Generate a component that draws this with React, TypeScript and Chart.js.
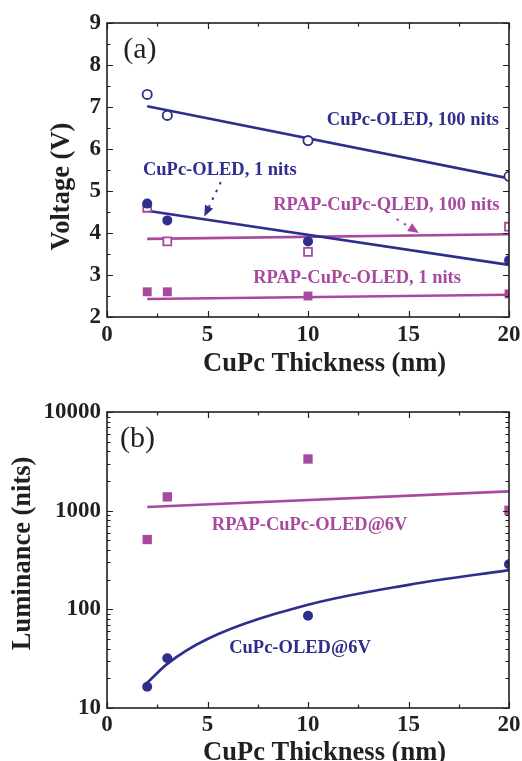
import React, { useEffect, useRef } from "react";
import { Chart, registerables } from "chart.js";

Chart.register(...registerables);

const NAVY = "#2E2E8C";
const MAGENTA = "#A9489F";
const INK = "#231F20";
const FAMILY = "'Liberation Serif', 'Times New Roman', serif";

// ---- data: panel (a) ----
const thicknessNm = [2, 3, 10, 20];
const cupc100Voltage = [7.3, 6.8, 6.2, 5.35];
const cupc1Voltage = [4.7, 4.3, 3.8, 3.35];
const rpap100Voltage = [4.6, 3.8, 3.55, 4.15];
const rpap1Voltage = [2.6, 2.6, 2.5, 2.55];

const fitEndsX = [2, 20];
const cupc100Fit = [7.02, 5.3];
const cupc1Fit = [4.53, 3.24];
const rpap100Fit = [3.86, 3.97];
const rpap1Fit = [2.43, 2.53];

// ---- data: panel (b) ----
const rpapLum = [510, 1380, 3340, 1010];
const cupcLum = [16.4, 31.9, 86, 286];
const rpapLumFit = [1090, 1570];
const cupcFitX = [2, 3, 5, 10, 15, 20];
const cupcLumFit = [18, 28, 50, 111, 177, 250];

// ---- ticks ----
const xMajor = [0, 5, 10, 15, 20];
const xMinor = [2.5, 7.5, 12.5, 17.5];
const vMajor = [2, 3, 4, 5, 6, 7, 8, 9];
const vMinor = [2.5, 3.5, 4.5, 5.5, 6.5, 7.5, 8.5];
const lumMajor = [10, 100, 1000, 10000];
const lumMinor = [
  20, 30, 40, 50, 60, 70, 80, 90,
  200, 300, 400, 500, 600, 700, 800, 900,
  2000, 3000, 4000, 5000, 6000, 7000, 8000, 9000,
];

const pts = (xs: number[], ys: number[]) => xs.map((x, i) => ({ x, y: ys[i] }));

type Label = { text: string; x: number; y: number; color: string; font: string };
type Arrow = { from: [number, number]; to: [number, number]; color: string };

const annotFont = `bold 18.5px ${FAMILY}`;
const panelFont = `30px ${FAMILY}`;

const labelsA: Label[] = [
  { text: "(a)", x: 1.64, y: 8.36, color: INK, font: panelFont },
  { text: "CuPc-OLED, 100 nits", x: 15.22, y: 6.68, color: NAVY, font: annotFont },
  { text: "CuPc-OLED, 1 nits", x: 5.61, y: 5.5, color: NAVY, font: annotFont },
  { text: "RPAP-CuPc-QLED, 100 nits", x: 13.9, y: 4.66, color: MAGENTA, font: annotFont },
  { text: "RPAP-CuPc-OLED, 1 nits", x: 12.44, y: 2.93, color: MAGENTA, font: annotFont },
];
const arrowsA: Arrow[] = [
  { from: [5.66, 5.21], to: [4.84, 4.39], color: NAVY },
  { from: [14.41, 4.33], to: [15.52, 4.0], color: MAGENTA },
];
const labelsB: Label[] = [
  { text: "(b)", x: 1.52, y: 5324, color: INK, font: panelFont },
  { text: "RPAP-CuPc-OLED@6V", x: 10.08, y: 716, color: MAGENTA, font: annotFont },
  { text: "CuPc-OLED@6V", x: 9.6, y: 40.6, color: NAVY, font: annotFont },
];

function framePlugin(xMaj: number[], xMin: number[], yMaj: number[], yMin: number[], labels: Label[], arrows: Arrow[]) {
  return {
    id: "frameTicks",
    afterDraw(chart: any) {
      const { ctx, chartArea } = chart;
      const { left, right, top, bottom } = chartArea;
      const xs = chart.scales.x;
      const ys = chart.scales.y;
      ctx.save();
      ctx.strokeStyle = INK;
      ctx.lineWidth = 1.2;
      const vt = (v: number, len: number) => {
        const p = Math.round(xs.getPixelForValue(v)) + 0.5;
        ctx.beginPath();
        ctx.moveTo(p, bottom);
        ctx.lineTo(p, bottom - len);
        ctx.moveTo(p, top);
        ctx.lineTo(p, top + len);
        ctx.stroke();
      };
      const ht = (v: number, len: number) => {
        const p = Math.round(ys.getPixelForValue(v)) + 0.5;
        ctx.beginPath();
        ctx.moveTo(left, p);
        ctx.lineTo(left + len, p);
        ctx.moveTo(right, p);
        ctx.lineTo(right - len, p);
        ctx.stroke();
      };
      xMaj.forEach((v) => vt(v, 6));
      xMin.forEach((v) => vt(v, 3.5));
      yMaj.forEach((v) => ht(v, 6));
      yMin.forEach((v) => ht(v, 3.5));
      ctx.lineWidth = 1.6;
      ctx.strokeRect(left, top, right - left, bottom - top);

      // arrows
      arrows.forEach((a) => {
        const x1 = xs.getPixelForValue(a.from[0]);
        const y1 = ys.getPixelForValue(a.from[1]);
        const x2 = xs.getPixelForValue(a.to[0]);
        const y2 = ys.getPixelForValue(a.to[1]);
        const ang = Math.atan2(y2 - y1, x2 - x1);
        const headLen = 11;
        const headW = 4.5;
        const bx = x2 - Math.cos(ang) * headLen;
        const by = y2 - Math.sin(ang) * headLen;
        ctx.strokeStyle = a.color;
        ctx.fillStyle = a.color;
        ctx.lineWidth = 2;
        ctx.setLineDash([2.5, 6]);
        ctx.beginPath();
        ctx.moveTo(x1, y1);
        ctx.lineTo(bx, by);
        ctx.stroke();
        ctx.setLineDash([]);
        ctx.beginPath();
        ctx.moveTo(x2, y2);
        ctx.lineTo(bx + Math.sin(ang) * headW, by - Math.cos(ang) * headW);
        ctx.lineTo(bx - Math.sin(ang) * headW, by + Math.cos(ang) * headW);
        ctx.closePath();
        ctx.fill();
      });

      // labels
      ctx.textAlign = "center";
      ctx.textBaseline = "middle";
      labels.forEach((l) => {
        ctx.font = l.font;
        ctx.fillStyle = l.color;
        ctx.fillText(l.text, xs.getPixelForValue(l.x), ys.getPixelForValue(l.y));
      });
      ctx.restore();
    },
  };
}

const tickFont = { family: FAMILY, size: 23, weight: "bold" as const, lineHeight: 1 };
const titleFont = { family: FAMILY, size: 26.5, weight: "bold" as const, lineHeight: 1 };

function xAxis(tickPad: number, titleBottom: number, height: number) {
  return {
    type: "linear" as const,
    min: 0,
    max: 20,
    grid: { display: false, drawTicks: false },
    border: { display: false },
    ticks: { stepSize: 5, color: INK, font: tickFont, padding: tickPad, maxRotation: 0 },
    title: {
      display: true,
      text: "     CuPc Thickness (nm)",
      color: INK,
      font: titleFont,
      padding: { top: 0, bottom: titleBottom },
    },
    afterFit(s: any) {
      s.height = height;
      s.paddingLeft = 0;
      s.paddingRight = 0;
    },
  };
}

function PanelA() {
  const ref = useRef<HTMLCanvasElement>(null);
  useEffect(() => {
    if (!ref.current) return;
    const filled = (label: string, ys: number[], color: string, style: string, r: number) => ({
      type: "scatter" as const,
      label,
      data: pts(thicknessNm, ys),
      showLine: false,
      pointStyle: style,
      pointRadius: r,
      pointBackgroundColor: color,
      pointBorderColor: color,
      pointBorderWidth: 0,
    });
    const open = (label: string, ys: number[], color: string, style: string, r: number) => ({
      type: "scatter" as const,
      label,
      data: pts(thicknessNm, ys),
      showLine: false,
      pointStyle: style,
      pointRadius: r,
      pointBackgroundColor: "#ffffff",
      pointBorderColor: color,
      pointBorderWidth: 1.8,
    });
    const fit = (label: string, ys: number[], color: string) => ({
      type: "line" as const,
      label,
      data: pts(fitEndsX, ys),
      borderColor: color,
      borderWidth: 2.6,
      pointRadius: 0,
      fill: false,
    });
    const chart = new Chart(ref.current, {
      type: "scatter",
      data: {
        datasets: [
          open("CuPc-OLED, 100 nits", cupc100Voltage, NAVY, "circle", 4.6),
          filled("CuPc-OLED, 1 nits", cupc1Voltage, NAVY, "circle", 5),
          open("RPAP-CuPc-OLED, 100 nits", rpap100Voltage, MAGENTA, "rect", 5.6),
          filled("RPAP-CuPc-OLED, 1 nits", rpap1Voltage, MAGENTA, "rect", 6.3),
          fit("fit 100", cupc100Fit, NAVY),
          fit("fit 1", cupc1Fit, NAVY),
          fit("fit rpap 100", rpap100Fit, MAGENTA),
          fit("fit rpap 1", rpap1Fit, MAGENTA),
        ] as any,
      },
      options: {
        animation: false,
        responsive: false,
        devicePixelRatio: 1,
        layout: { padding: { top: 23, right: 13, left: 0, bottom: 0 } },
        plugins: { legend: { display: false }, tooltip: { enabled: false } },
        scales: {
          x: xAxis(7, 2.5, 63),
          y: {
            type: "linear",
            min: 2,
            max: 9,
            grid: { display: false, drawTicks: false },
            border: { display: false },
            ticks: { stepSize: 1, color: INK, font: tickFont, padding: 6 },
            title: {
              display: true,
              text: "Voltage (V)     ",
              color: INK,
              font: titleFont,
              padding: { top: 49, bottom: 0 },
            },
            afterFit(s: any) {
              s.width = 107;
              s.paddingTop = 0;
              s.paddingBottom = 0;
            },
          },
        },
      } as any,
      plugins: [framePlugin(xMajor, xMinor, vMajor, vMinor, labelsA, arrowsA)],
    });
    return () => chart.destroy();
  }, []);
  return <canvas ref={ref} width={522} height={380} style={{ position: "absolute", left: 0, top: 0 }} />;
}

function PanelB() {
  const ref = useRef<HTMLCanvasElement>(null);
  useEffect(() => {
    if (!ref.current) return;
    const chart = new Chart(ref.current, {
      type: "scatter",
      data: {
        datasets: [
          {
            type: "scatter",
            label: "RPAP-CuPc-OLED@6V",
            data: pts(thicknessNm, rpapLum),
            pointStyle: "rect",
            pointRadius: 6.6,
            pointBackgroundColor: MAGENTA,
            pointBorderWidth: 0,
          },
          {
            type: "scatter",
            label: "CuPc-OLED@6V",
            data: pts(thicknessNm, cupcLum),
            pointStyle: "circle",
            pointRadius: 5,
            pointBackgroundColor: NAVY,
            pointBorderWidth: 0,
          },
          {
            type: "line",
            label: "RPAP fit",
            data: pts(fitEndsX, rpapLumFit),
            borderColor: MAGENTA,
            borderWidth: 2.6,
            pointRadius: 0,
            fill: false,
          },
          {
            type: "line",
            label: "CuPc fit",
            data: pts(cupcFitX, cupcLumFit),
            borderColor: NAVY,
            borderWidth: 2.6,
            pointRadius: 0,
            fill: false,
            cubicInterpolationMode: "monotone",
          },
        ] as any,
      },
      options: {
        animation: false,
        responsive: false,
        devicePixelRatio: 1,
        layout: { padding: { top: 32, right: 13, left: 0, bottom: 0 } },
        plugins: { legend: { display: false }, tooltip: { enabled: false } },
        scales: {
          x: xAxis(6, 14, 72),
          y: {
            type: "logarithmic",
            min: 10,
            max: 10000,
            grid: { display: false, drawTicks: false },
            border: { display: false },
            ticks: {
              autoSkip: false,
              color: INK,
              font: tickFont,
              padding: 6,
              callback: (v: any) => {
                const n = Number(v);
                return lumMajor.some((m) => Math.abs(m - n) < 1e-6 * m) ? String(n) : "";
              },
            },
            title: {
              display: true,
              text: "  Luminance (nits)",
              color: INK,
              font: titleFont,
              padding: { top: 10, bottom: 0 },
            },
            afterFit(s: any) {
              s.width = 107;
              s.paddingTop = 0;
              s.paddingBottom = 0;
            },
          },
        },
      } as any,
      plugins: [framePlugin(xMajor, xMinor, lumMajor, lumMinor, labelsB, [])],
    });
    return () => chart.destroy();
  }, []);
  return <canvas ref={ref} width={522} height={400} style={{ position: "absolute", left: 0, top: 380 }} />;
}

export default function App() {
  return (
    <div
      style={{
        position: "absolute",
        left: 0,
        top: 0,
        width: 522,
        height: 761,
        overflow: "hidden",
        background: "#ffffff",
      }}
    >
      <PanelA />
      <PanelB />
    </div>
  );
}
